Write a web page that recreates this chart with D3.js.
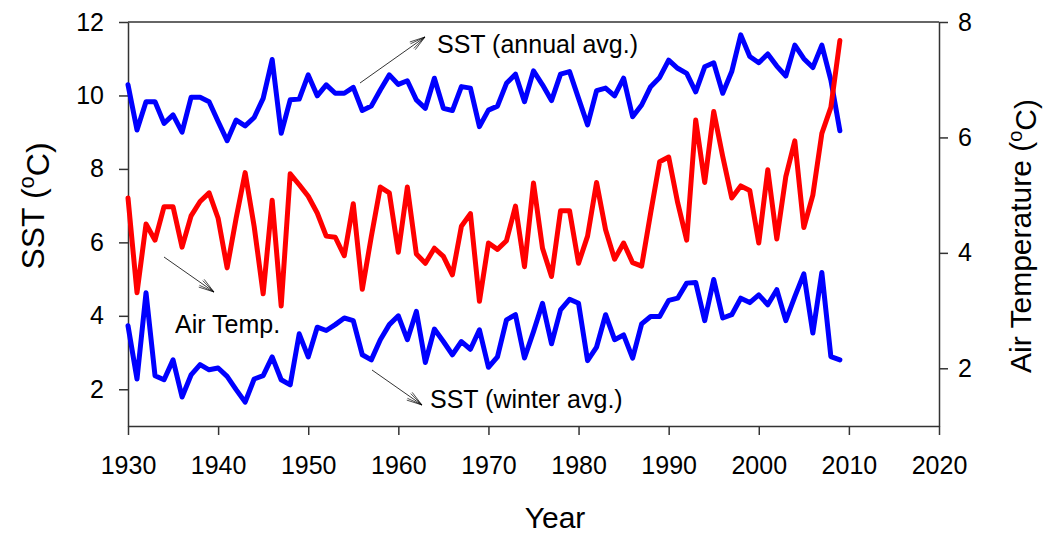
<!DOCTYPE html>
<html>
<head>
<meta charset="utf-8">
<script src="https://cdn.jsdelivr.net/npm/d3@7"></script>
<style>
  html, body { margin: 0; padding: 0; background: #fff; }
  svg { display: block; font-family: Arial, "Liberation Sans", sans-serif; }
</style>
</head>
<body>
<svg id="chart" width="1046" height="536"></svg>
<script>
const years = [1930,1931,1932,1933,1934,1935,1936,1937,1938,1939,
  1940,1941,1942,1943,1944,1945,1946,1947,1948,1949,
  1950,1951,1952,1953,1954,1955,1956,1957,1958,1959,
  1960,1961,1962,1963,1964,1965,1966,1967,1968,1969,
  1970,1971,1972,1973,1974,1975,1976,1977,1978,1979,
  1980,1981,1982,1983,1984,1985,1986,1987,1988,1989,
  1990,1991,1992,1993,1994,1995,1996,1997,1998,1999,
  2000,2001,2002,2003,2004,2005,2006,2007,2008,2009];

// SST annual average (left axis, °C)
const sstAnnual = [10.29,9.06,9.83,9.83,9.24,9.47,9.0,9.95,9.95,9.83,
  9.29,8.77,9.33,9.17,9.40,9.92,10.98,8.97,9.88,9.9,
  10.56,9.99,10.29,10.06,10.06,10.22,9.59,9.71,10.15,10.56,
  10.3,10.4,9.88,9.65,10.47,9.65,9.59,10.24,10.2,9.15,
  9.6,9.71,10.33,10.58,9.83,10.67,10.29,9.86,10.58,10.65,
  9.92,9.2,10.13,10.2,9.99,10.47,9.42,9.74,10.24,10.49,
  10.96,10.74,10.6,10.1,10.78,10.89,10.06,10.65,11.65,11.06,
  10.89,11.13,10.8,10.53,11.37,11.0,10.76,11.37,10.42,9.04];

// SST winter average (left axis, °C)
const sstWinter = [3.73,2.28,4.63,2.37,2.26,2.8,1.79,2.39,2.67,2.53,
  2.58,2.35,1.99,1.65,2.28,2.37,2.88,2.26,2.12,3.51,
  2.88,3.69,3.6,3.76,3.94,3.87,2.94,2.8,3.35,3.76,
  4.0,3.35,4.12,2.73,3.64,3.3,2.94,3.3,3.09,3.62,
  2.6,2.88,3.89,4.03,2.85,3.57,4.34,3.24,4.16,4.45,
  4.34,2.78,3.15,4.03,3.35,3.48,2.85,3.78,3.98,3.98,
  4.42,4.48,4.89,4.91,3.87,4.99,3.94,4.03,4.48,4.36,
  4.57,4.3,4.71,3.87,4.52,5.14,3.53,5.18,2.89,2.8];

// Air temperature (right axis, °C)
const airTemp = [4.95,3.31,4.5,4.22,4.8,4.8,4.1,4.64,4.89,5.04,
  4.6,3.74,4.6,5.39,4.46,3.29,4.91,3.08,5.37,5.18,
  4.98,4.69,4.29,4.27,3.95,4.85,3.37,4.28,5.14,5.04,
  4.01,5.14,3.98,3.82,4.08,3.94,3.62,4.46,4.68,3.16,
  4.17,4.06,4.21,4.81,3.76,5.21,4.08,3.59,4.73,4.73,
  3.82,4.29,5.22,4.4,3.89,4.17,3.83,3.77,4.69,5.58,
  5.66,4.87,4.22,6.3,5.22,6.45,5.67,4.95,5.16,5.08,
  4.17,5.44,4.24,5.32,5.94,4.44,5.0,6.07,6.52,7.68];

const xTicks = [1930,1940,1950,1960,1970,1980,1990,2000,2010,2020];
const leftTicks = [2,4,6,8,10,12];
const rightTicks = [2,4,6,8];

const svg = d3.select("#chart");
const L = 128, R = 939, T = 22, B = 426;

const x = d3.scaleLinear().domain([1930, 2020]).range([L, R]);
const yL = d3.scaleLinear().domain([1, 12]).range([B, T]);
const yR = d3.scaleLinear().domain([1, 8]).range([B, T]);

const axisColor = "#333";

// top frame line
svg.append("line").attr("x1", L).attr("x2", R).attr("y1", T).attr("y2", T)
  .attr("stroke", axisColor).attr("stroke-width", 1.5);

function styleAxis(g) {
  g.select(".domain").attr("stroke", axisColor).attr("stroke-width", 1.5);
  g.selectAll(".tick line").attr("stroke", axisColor).attr("stroke-width", 1.5);
  g.selectAll(".tick text").attr("fill", "#000").style("font-size", "25px")
    .style("font-family", 'Arial, "Liberation Sans", sans-serif');
}

svg.append("g").attr("transform", `translate(0,${B})`)
  .call(d3.axisBottom(x).tickValues(xTicks).tickFormat(d3.format("d"))
    .tickSize(9).tickSizeOuter(0).tickPadding(21))
  .call(styleAxis);

svg.append("g").attr("transform", `translate(${L},0)`)
  .call(d3.axisLeft(yL).tickValues(leftTicks).tickFormat(d3.format("d"))
    .tickSize(9).tickSizeOuter(0).tickPadding(15))
  .call(styleAxis);

svg.append("g").attr("transform", `translate(${R},0)`)
  .call(d3.axisRight(yR).tickValues(rightTicks).tickFormat(d3.format("d"))
    .tickSize(9).tickSizeOuter(0).tickPadding(10))
  .call(styleAxis);

// lines
const lineL = d3.line().x((d, i) => x(years[i])).y(d => yL(d));
const lineR = d3.line().x((d, i) => x(years[i])).y(d => yR(d));

function drawLine(data, gen, color) {
  svg.append("path").datum(data).attr("d", gen)
    .attr("fill", "none").attr("stroke", color).attr("stroke-width", 5)
    .attr("stroke-linejoin", "round").attr("stroke-linecap", "round");
}
drawLine(sstAnnual, lineL, "#0000ff");
drawLine(airTemp, lineR, "#ff0000");
drawLine(sstWinter, lineL, "#0000ff");

// axis titles
svg.append("text").attr("x", 555).attr("y", 528).attr("text-anchor", "middle")
  .style("font-size", "30px").text("Year");

function rotTitle(cx, cy, size, main, after) {
  const t = svg.append("text").attr("transform", `translate(${cx},${cy}) rotate(-90)`)
    .attr("text-anchor", "middle").style("font-size", size + "px");
  t.append("tspan").text(main);
  t.append("tspan").attr("dy", "-0.45em").style("font-size", Math.round(size * 0.68) + "px").text("o");
  t.append("tspan").attr("dy", "0.45em").text(after);
}
rotTitle(44, 206, 32, "SST (", "C)");
rotTitle(1031, 236, 30, "Air Temperature (", "C)");

// annotations
function ann(tx, ty, label, x1, y1, x2, y2) {
  svg.append("text").attr("x", tx).attr("y", ty).style("font-size", "25px").text(label);
  svg.append("line").attr("x1", x1).attr("y1", y1).attr("x2", x2).attr("y2", y2)
    .attr("stroke", "#000").attr("stroke-width", 0.8);
  const ang = Math.atan2(y2 - y1, x2 - x1);
  const len = 16, spread = 0.3;
  [-spread, spread, -spread * 0.6, spread * 0.6].forEach(s => {
    svg.append("line").attr("x1", x2).attr("y1", y2)
      .attr("x2", x2 - len * Math.cos(ang + s)).attr("y2", y2 - len * Math.sin(ang + s))
      .attr("stroke", "#000").attr("stroke-width", 0.7);
  });
}
ann(437, 53, "SST (annual avg.)", 360, 83, 425, 37);
ann(175, 333, "Air Temp.", 164, 257, 214, 292);
ann(430, 408, "SST (winter avg.)", 372, 370, 422, 405);
</script>
</body>
</html>
